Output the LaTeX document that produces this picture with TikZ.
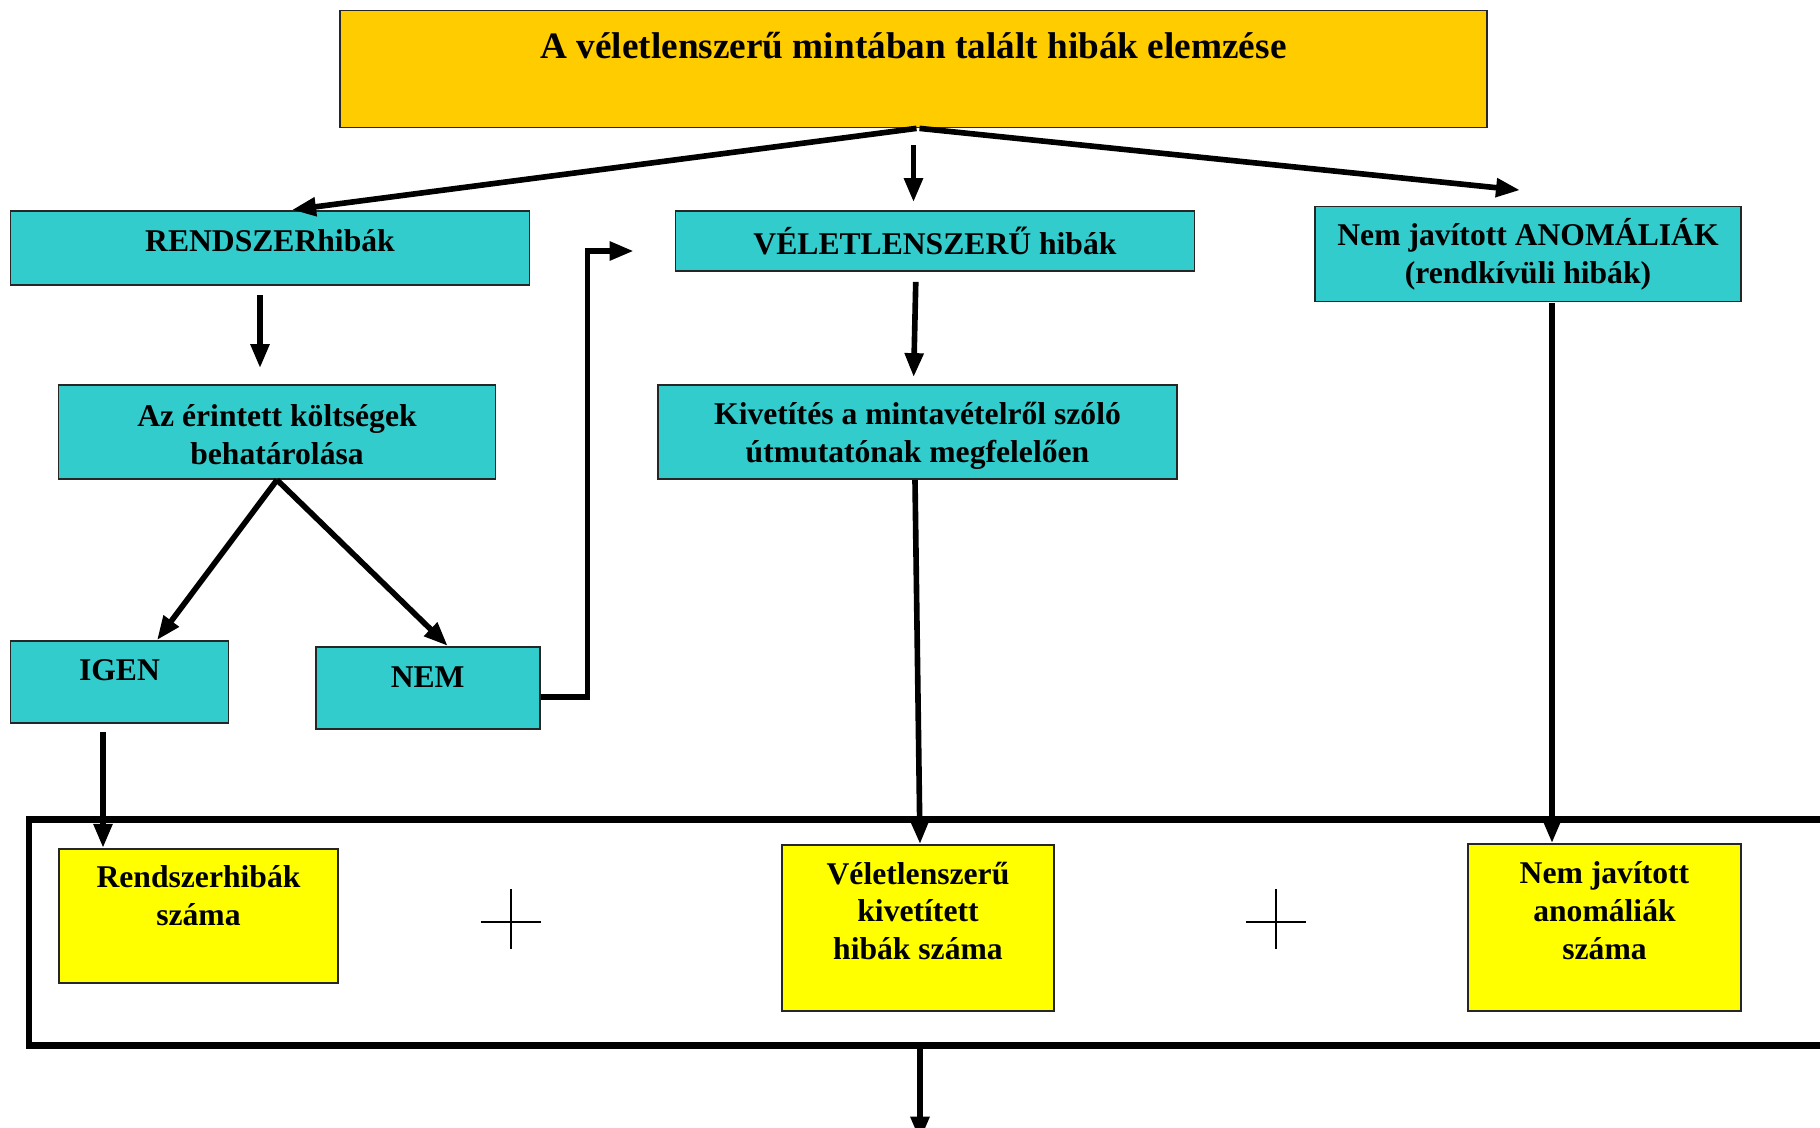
\documentclass[tikz,border=0pt]{standalone}
\usepackage{fontspec}
\setmainfont{Liberation Serif}
\usetikzlibrary{arrows.meta, positioning, calc}
\definecolor{narancs}{HTML}{FFCC00}
\definecolor{tkek}{HTML}{33CCCC}
\definecolor{sargaszin}{HTML}{FFFF00}

\begin{document}
\begin{tikzpicture}[font=\fontsize{9}{10.7}\selectfont\bfseries,
	doboz/.style={draw=black!85, line width=0.5pt, inner sep=0pt, align=center},
	kek/.style={doboz, fill=tkek},
	sarga/.style={doboz, fill=sargaszin},
	felirat/.style={anchor=center, align=center, inner sep=0pt},
	nyil/.style={-{Triangle[length=2.4mm, width=1.8mm]}, line width=1.6pt},
	plusz/.style={line width=0.4pt}]
	\clip (0,0) rectangle (18.2,-11.28);

	\node[doboz, fill=narancs, minimum width=11.47cm, minimum height=1.17cm, label={[felirat, font=\fontsize{10.6}{12}\selectfont\bfseries, yshift=-0.36cm]north:A véletlenszerű mintában talált hibák elemzése}] (cim) at (9.135,-0.69) {};

	\node[kek, minimum width=5.19cm, minimum height=0.745cm, label={[felirat, yshift=-0.31cm]north:RENDSZERhibák}] (rendszer) at (2.70,-2.48) {};
	\node[kek, minimum width=5.19cm, minimum height=0.60cm] (veletlen) at (9.35,-2.41) {VÉLETLENSZERŰ hibák};
	\node[kek, minimum width=4.26cm, minimum height=0.95cm] (anomalia) at (15.28,-2.54) {Nem javított ANOMÁLIÁK\\(rendkívüli hibák)};

	\node[kek, minimum width=4.37cm, minimum height=0.94cm, label={[felirat, yshift=-0.505cm]north:Az érintett költségek\\behatárolása}] (koltseg) at (2.77,-4.32) {};
	\node[kek, minimum width=5.19cm, minimum height=0.94cm, label={[felirat, yshift=-0.515cm]north:Kivetítés a mintavételről szóló\\útmutatónak megfelelően}] (kivetites) at (9.175,-4.32) {};

	\node[kek, minimum width=2.18cm, minimum height=0.82cm, label={[felirat, yshift=-0.30cm]north:IGEN}] (igen) at (1.195,-6.82) {};
	\node[kek, minimum width=2.24cm, minimum height=0.825cm, label={[felirat, yshift=-0.315cm]north:NEM}] (nem) at (4.277,-6.88) {};

	\node[draw, line width=1.9pt, inner sep=0pt, minimum width=18.3cm, minimum height=2.26cm, anchor=north west] (keret) at (0.255,-8.16) {};

	\node[sarga, minimum width=2.786cm, minimum height=1.345cm, label={[felirat, yshift=-0.48cm]north:Rendszerhibák\\száma}] (rszam) at (1.985,-9.16) {};
	\node[sarga, minimum width=2.72cm, minimum height=1.66cm, label={[felirat, yshift=-0.665cm]north:Véletlenszerű\\kivetített\\hibák száma}] (vszam) at (9.18,-9.28) {};
	\node[sarga, minimum width=2.73cm, minimum height=1.67cm, label={[felirat, yshift=-0.675cm]north:Nem javított\\anomáliák\\száma}] (aszam) at (16.045,-9.275) {};

	\draw[plusz] (4.81,-9.22) -- (5.41,-9.22) (5.11,-8.89) -- (5.11,-9.49);
	\draw[plusz] (12.46,-9.22) -- (13.06,-9.22) (12.76,-8.89) -- (12.76,-9.49);

	\coordinate (kimenet) at ($(vszam.south |- keret.south)+(0.02,-0.92)$);

	\draw[nyil] ([xshift=0.3mm]cim.south) -- ([xshift=2.2mm]rendszer.north);
	\draw[nyil, shorten <=1.7mm, shorten >=0.8mm] (cim.south) -- (cim.south |- veletlen.north);
	\draw[nyil] ([xshift=0.6mm]cim.south) -- ([xshift=-0.8mm, yshift=1.55mm]anomalia.north);
	\draw[nyil, shorten <=0.9mm, shorten >=1.6mm] ([xshift=-1mm]rendszer.south) -- ([xshift=-1mm]rendszer.south |- koltseg.north);
	\draw[nyil, shorten <=1mm, shorten >=0.7mm] ([xshift=-1.9mm]veletlen.south) -- ([xshift=-0.4mm]kivetites.north);
	\draw[nyil] (koltseg.south) -- ([xshift=3.75mm]igen.north);
	\draw[nyil] (koltseg.south) -- ([xshift=2mm]nem.north);
	\draw[nyil] ([yshift=-0.9mm]nem.east) -- ++(0.47,0) |- ([xshift=-4.1mm, yshift=-1mm]veletlen.west);
	\draw[nyil, shorten <=0.8mm] ([xshift=-1.65mm]igen.south) -- ([xshift=-1.65mm]igen.south |- rszam.north);
	\draw[nyil] ([xshift=-0.25mm]kivetites.south) -- ([xshift=0.2mm]vszam.north);
	\draw[nyil, shorten <=0.1mm] ([xshift=2.4mm]anomalia.south) -- ([xshift=2.4mm]anomalia.south |- aszam.north);
	\draw[nyil] ([xshift=0.2mm]vszam.south |- keret.south) -- (kimenet);
\end{tikzpicture}
\end{document}
